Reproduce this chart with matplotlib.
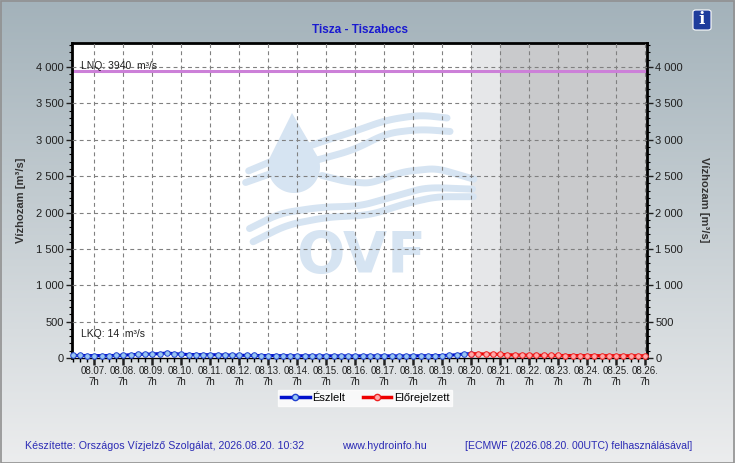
import numpy as np
import matplotlib
matplotlib.use("Agg")
import matplotlib.pyplot as plt
import matplotlib.dates as mdates
from matplotlib.patches import Polygon, FancyBboxPatch
from matplotlib.lines import Line2D
from datetime import datetime, timedelta

plt.rcParams['font.family'] = ['Liberation Sans', 'DejaVu Sans']

# ---------------- data ----------------
obs_start = datetime(2026, 8, 6, 13)
obs_values = [35, 35,
              34, 33, 33, 34,
              35, 38, 45, 50,
              52, 55, 60, 68,
              60, 52, 48, 47,
              46, 45, 44, 42,
              40, 38, 36, 35,
              34, 33, 33, 32,
              32, 31, 31, 30,
              30, 30, 30, 29,
              29, 29, 30, 30,
              30, 30, 29, 29,
              29, 30, 31, 32,
              33, 34, 38, 45,
              55, 60]
fc_start = datetime(2026, 8, 20, 7)
fc_values = [60, 58, 55, 52, 50, 45, 42, 40, 38, 37, 36, 35, 35, 34, 34,
             33, 33, 33, 32, 32, 32, 31, 31, 31, 31]
step_hours = 6
lnq_value = 3940
lkq_value = 14
title = "Tisza - Tiszabecs"
ylabel = "Vízhozam [m³/s]"
legend_labels = ["Észlelt", "Előrejelzett"]
yticks = [0, 500, 1000, 1500, 2000, 2500, 3000, 3500, 4000]
tick_days = [datetime(2026, 8, d, 7) for d in range(7, 27)]
shade_light = (datetime(2026, 8, 20, 7), datetime(2026, 8, 21, 7))
shade_dark_start = datetime(2026, 8, 21, 7)
footer_left = "Készítette: Országos Vízjelző Szolgálat, 2026.08.20. 10:32"
footer_mid = "www.hydroinfo.hu"
footer_right = "[ECMWF (2026.08.20. 00UTC) felhasználásával]"

obs_t = [obs_start + timedelta(hours=step_hours * i) for i in range(len(obs_values))]
fc_t = [fc_start + timedelta(hours=step_hours * i) for i in range(len(fc_values))]

W, H = 735, 463
fig = plt.figure(figsize=(W / 100, H / 100), dpi=100)

# background gradient
bg = fig.add_axes([0, 0, 1, 1], zorder=-10)
bg.axis('off')
top = np.array([163, 178, 186]) / 255
bot = np.array([236, 237, 238]) / 255
g = np.linspace(0, 1, 256)[:, None]
grad = top[None, None, :] * (1 - g[..., None]) + bot[None, None, :] * g[..., None]
grad = np.repeat(grad, 2, axis=1)
bg.imshow(grad, aspect='auto', extent=[0, 1, 0, 1], origin='upper')
bg.set_xlim(0, 1); bg.set_ylim(0, 1)
bg.add_patch(plt.Rectangle((0.001, 0.001), 0.998, 0.997, fill=False,
                           edgecolor='#909090', lw=1.2, transform=bg.transAxes))

def fx(px):
    return np.asarray(px) / W

def fy(py):
    return 1 - np.asarray(py) / H

ax = fig.add_axes([fx(72), fy(358), fx(647) - fx(72), fy(43) - fy(358)])
ax.set_facecolor('white')

xmin = obs_start - timedelta(minutes=30)
xmax = datetime(2026, 8, 26, 8, 30)
ax.set_xlim(xmin, xmax)
ax.set_ylim(0, 4330)

# shading
ax.axvspan(shade_light[0], shade_light[1], color='#e6e7e9', zorder=0.5, lw=0)
ax.axvspan(shade_dark_start, xmax, color='#c9cacc', zorder=0.5, lw=0)

# watermark (decoration)
wm = '#d6e4f2'
waves_px = [
    [(246.7, 171.7), (266.7, 163.3), (290, 153.3), (316.7, 143.3), (353.3, 131.7), (386.7, 120), (420, 115), (450, 118.3)],
    [(243.3, 183.3), (266.7, 175), (296.7, 165), (320, 159.3), (353.3, 150), (386.7, 133.3), (420, 129.3), (453.3, 131.7)],
    [(320, 175), (346.7, 181.7), (370, 183.3), (403.3, 171.7), (436.7, 168.3), (476.7, 180)],
    [(246.7, 230), (280, 213.3), (320, 207.3), (360, 206), (393.3, 196.7), (426.7, 187.3), (476.7, 189.3)],
    [(250, 243.3), (286.7, 225), (326.7, 217.3), (370, 215), (406.7, 203.3), (436.7, 196.7), (476.7, 196.7)],
]
for pts in waves_px:
    p = np.array(pts)
    tt = np.linspace(0, 1, len(p))
    ts = np.linspace(0, 1, 80)
    xs = np.interp(ts, tt, p[:, 0])
    ys = np.interp(ts, tt, p[:, 1])
    k = np.ones(9) / 9
    xs2 = np.convolve(np.pad(xs, 4, mode='edge'), k, mode='valid')
    ys2 = np.convolve(np.pad(ys, 4, mode='edge'), k, mode='valid')
    ax.add_line(Line2D(fx(xs2), fy(ys2), transform=fig.transFigure, color=wm,
                       lw=5, solid_capstyle='round', zorder=0.8))
# drop
cx, cy, r = 294, 167, 26
tipx, tipy = 292, 113
drop = [(cx + r * np.cos(a), cy - r * np.sin(a)) for a in np.linspace(np.deg2rad(20), np.deg2rad(-200), 60)]
drop = [(tipx, tipy)] + drop[::-1]
drop_f = [(float(fx(a)), float(fy(b))) for a, b in drop]
ax.add_patch(Polygon(drop_f, closed=True, transform=fig.transFigure, facecolor=wm,
                     edgecolor='none', zorder=0.85))
ax.text(fx(361), fy(258), "OVF", transform=fig.transFigure, fontsize=41,
        fontweight='bold', color=wm, ha='center', va='center', zorder=0.8,
        family='DejaVu Sans')

# grid
ax.set_yticks(yticks)
ax.set_xticks(tick_days)
ax.grid(True, which='major', color='#808080', linestyle=(0, (3.5, 3)), lw=0.8, zorder=1)
ax.set_axisbelow(False)

# lines
ax.axhline(lnq_value, color='#cc80d8', lw=2.2, zorder=2)
ax.plot(obs_t, obs_values, color='#0010cc', lw=2.2, marker='o', ms=4,
        mfc='#99c6f2', mec='#2040d0', mew=0.7, zorder=4, clip_on=False)
ax.plot(fc_t, fc_values, color='#ee0000', lw=2.2, marker='o', ms=4,
        mfc='#ffaaaa', mec='#ee2020', mew=0.7, zorder=4, clip_on=False)

ax.text(0.016, 4010, "LNQ: %d  m³/s" % lnq_value, fontsize=7.5, color='#202020',
        transform=ax.get_yaxis_transform(), va='center', ha='left', zorder=5)
ax.text(0.016, 330, "LKQ: %d  m³/s" % lkq_value, fontsize=7.5, color='#202020',
        transform=ax.get_yaxis_transform(), va='center', ha='left', zorder=5)

# axes formatting
fmt = lambda v, pos=None: f"{int(v):,}".replace(",", " ")
ax.yaxis.set_major_formatter(plt.FuncFormatter(fmt))
ax.yaxis.set_minor_locator(matplotlib.ticker.MultipleLocator(100))
ax.xaxis.set_major_formatter(plt.FuncFormatter(
    lambda v, pos=None: mdates.num2date(v).strftime('%m.%d.') + "\n" + str(mdates.num2date(v).hour) + "h"))
ax.xaxis.set_minor_locator(mdates.HourLocator(byhour=[1, 13, 19]))
ax.tick_params(axis='y', which='major', length=4, width=1, labelsize=8, colors='#202020', pad=2)
ax.tick_params(axis='y', which='minor', length=2.5, width=0.8)
ax.tick_params(axis='x', which='major', length=5, width=1.8, labelsize=7, colors='#202020', pad=1)
ax.tick_params(axis='x', which='minor', length=3, width=1)
for lab in ax.get_xticklabels():
    lab.set_linespacing(1.1)
for s in ax.spines.values():
    s.set_linewidth(2)
    s.set_color('black')
ax.spines['bottom'].set_linewidth(1)

ax2 = ax.twinx()
ax2.set_ylim(ax.get_ylim())
ax2.set_yticks(yticks)
ax2.yaxis.set_major_formatter(plt.FuncFormatter(fmt))
ax2.yaxis.set_minor_locator(matplotlib.ticker.MultipleLocator(100))
ax2.tick_params(axis='y', which='major', length=4, width=1, labelsize=8, colors='#202020', pad=2)
ax2.tick_params(axis='y', which='minor', length=2.5, width=0.8)
for s in ax2.spines.values():
    s.set_visible(False)

fig.text(fx(21), fy(200), ylabel, rotation=90, ha='center', va='center',
         fontsize=8, fontweight='bold', color='#333333')
fig.text(fx(704), fy(200), ylabel, rotation=270, ha='center', va='center',
         fontsize=8, fontweight='bold', color='#333333')

fig.text(fx(360), fy(30), title, ha='center', va='center', fontsize=8.5,
         fontweight='bold', color='#1a1ad0')

# legend
h1 = Line2D([], [], color='#0010cc', lw=2.5, marker='o', ms=4.5, mfc='#99c6f2', mec='#2040d0')
h2 = Line2D([], [], color='#ee0000', lw=2.5, marker='o', ms=4.5, mfc='#ffaaaa', mec='#ee2020')
leg = fig.legend([h1, h2], legend_labels, loc='center', bbox_to_anchor=(fx(365), fy(398)),
                 ncol=2, frameon=True, fancybox=False, fontsize=8, handlelength=2.6,
                 handletextpad=0.2, columnspacing=1.6, borderpad=0.25, borderaxespad=0)
leg.get_frame().set_facecolor('white')
leg.get_frame().set_edgecolor('white')

# footer
fc = '#2b2bb5'
fig.text(fx(25), fy(446), footer_left, ha='left', va='center', fontsize=7.7, color=fc)
fig.text(fx(342), fy(446), footer_mid, ha='left', va='center', fontsize=7.7, color=fc)
fig.text(fx(465), fy(446), footer_right, ha='left', va='center', fontsize=7.6, color=fc)

# info icon
bg.add_patch(FancyBboxPatch((fx(693), fy(30)), fx(18), fy(10) - fy(30),
                            boxstyle='round,pad=0,rounding_size=0.004', facecolor='#1e3c9c',
                            edgecolor='white', lw=0.8, transform=bg.transAxes))
bg.text(fx(702), fy(20), "i", ha='center', va='center', fontsize=12, fontweight='bold',
        color='white', family='DejaVu Serif', transform=bg.transAxes)

fig.savefig("out.png", dpi=100)
